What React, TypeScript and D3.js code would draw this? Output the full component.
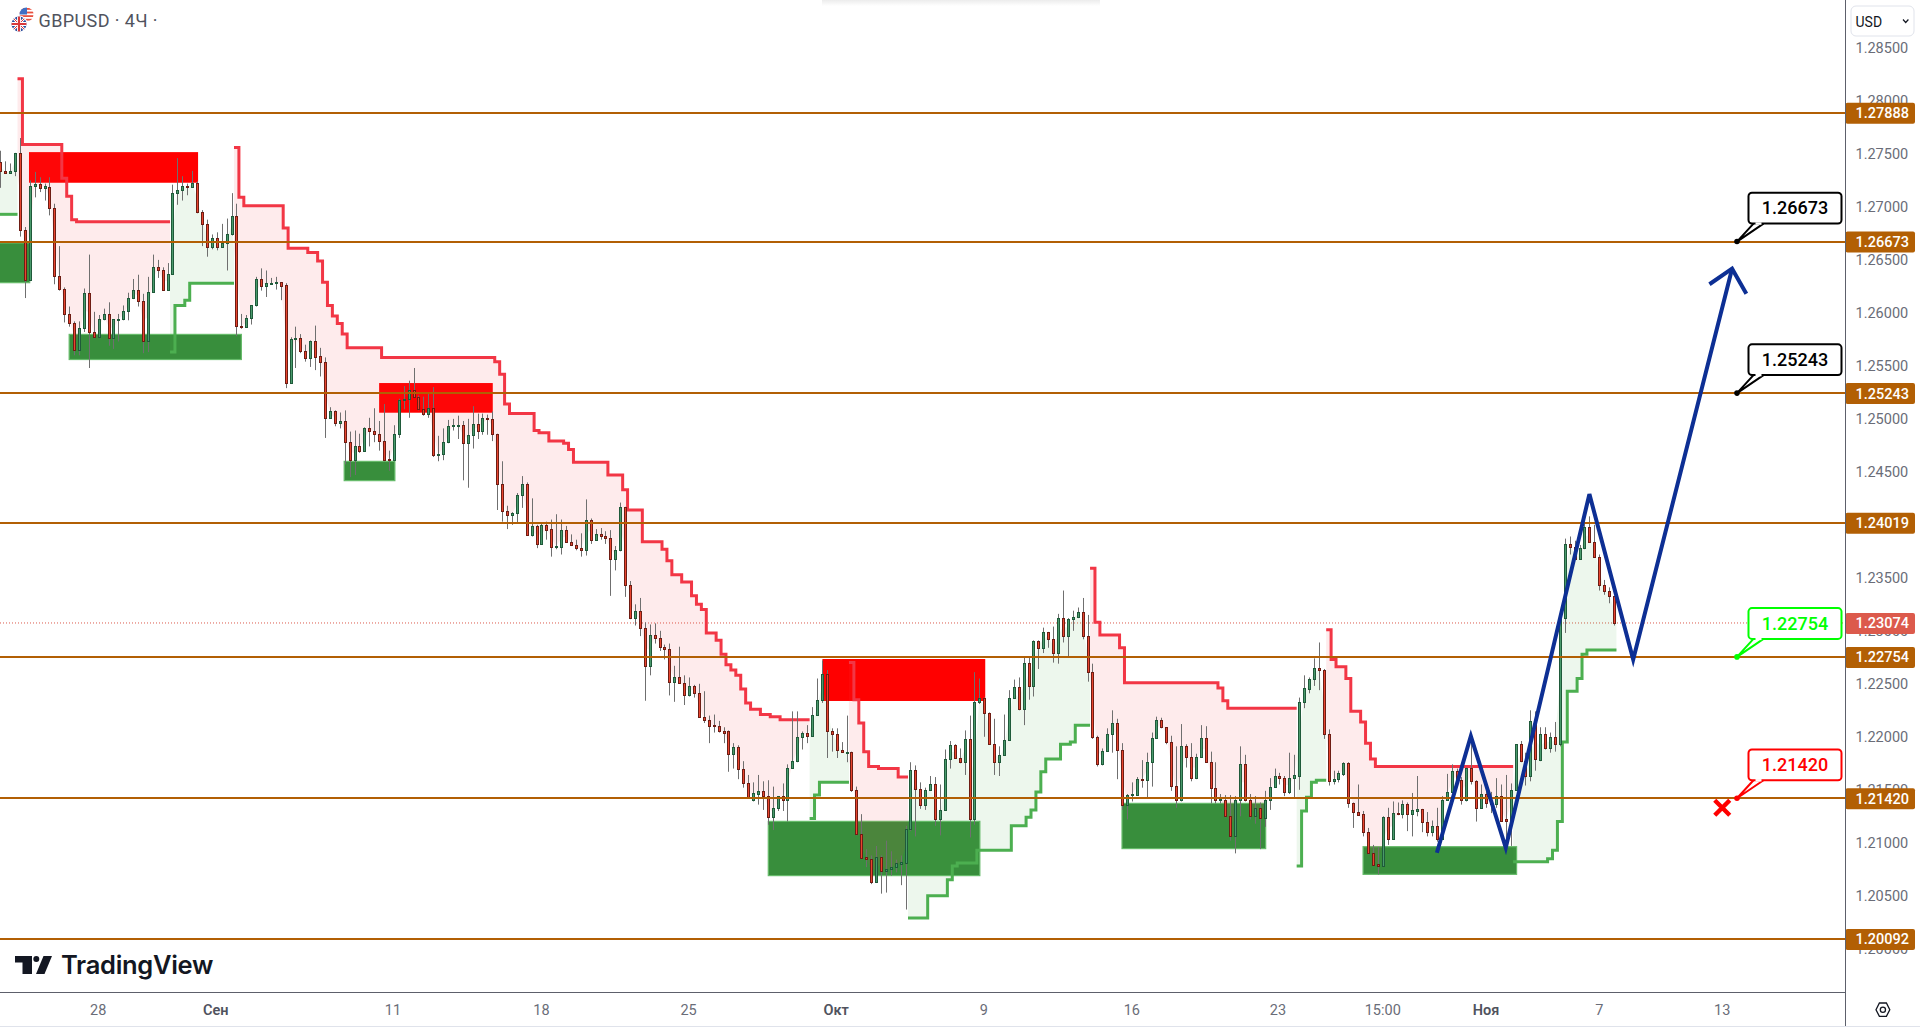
// App.tsx
// GBPUSD 4h candlestick chart with trend steps, supply/demand zones and price levels.
import React from 'react';
import * as d3 from 'd3';

// Prices below are in pips (1.2345 -> 12345). Rows are [open, high, low, close].
const candlesAug = [
  [12742,12753,12718,12734],[12734,12743,12732,12732],[12732,12741,12732,12734],[12734,12751,12729,12751],
  [12751,12765,12672,12678],[12678,12681,12614,12631],[12631,12725,12630,12720],[12720,12733,12709,12722],
  [12722,12728,12714,12718],[12718,12722,12706,12720],[12719,12728,12692,12699],[12699,12703,12627,12635],
  [12635,12663,12621,12623],[12623,12624,12591,12599],[12599,12606,12587,12590],[12590,12592,12560,12565],
  [12565,12592,12560,12586],[12586,12623,12582,12619],[12619,12655,12548,12582],[12582,12601,12576,12577],
  [12577,12598,12577,12594],[12594,12604,12593,12599],[12599,12610,12569,12576],[12576,12594,12566,12594],
  [12594,12599,12573,12594],[12594,12607,12593,12602],[12602,12619,12593,12614],[12614,12632,12613,12622],
  [12622,12636,12606,12611],[12611,12618,12562,12573],[12573,12634,12563,12620],[12620,12655,12620,12643],
  [12643,12650,12633,12640],[12640,12643,12622,12622],[12622,12647,12622,12637],[12637,12721,12637,12713],
  [12713,12746,12702,12716],[12716,12729,12706,12720],[12720,12722,12711,12719],[12719,12734,12719,12723],
  [12723,12724,12694,12695],[12695,12697,12663,12684],[12684,12688,12653,12662],[12662,12674,12660,12671],
];
const candlesSep = [
  [12671,12676,12659,12662],[12662,12684,12662,12666],[12666,12689,12640,12674],[12674,12713,12673,12691],
  [12691,12703,12578,12588],[12588,12599,12585,12587],[12587,12598,12587,12595],[12595,12607,12589,12607],
  [12607,12634,12606,12632],[12632,12642,12621,12625],[12625,12640,12615,12628],[12628,12633,12627,12628],
  [12628,12634,12622,12629],[12629,12629,12612,12625],[12626,12628,12529,12534],[12534,12577,12534,12575],
  [12575,12587,12548,12576],[12576,12580,12562,12564],[12564,12570,12554,12557],[12557,12574,12549,12573],
  [12573,12588,12546,12558],[12559,12567,12540,12554],[12554,12558,12482,12501],[12501,12511,12500,12507],
  [12507,12508,12493,12496],[12496,12506,12491,12498],[12498,12508,12457,12478],[12478,12488,12445,12461],
  [12461,12489,12447,12474],[12474,12486,12468,12470],[12470,12492,12469,12491],[12491,12501,12474,12489],
  [12489,12510,12478,12486],[12486,12498,12470,12479],[12479,12514,12460,12461],[12462,12470,12451,12461],
  [12461,12494,12460,12486],[12486,12519,12482,12518],[12518,12531,12509,12519],[12519,12536,12501,12527],
  [12527,12548,12521,12521],[12521,12522,12508,12509],[12509,12521,12503,12505],[12505,12524,12501,12510],
  [12510,12530,12464,12466],[12466,12484,12460,12467],[12467,12491,12461,12478],[12478,12499,12477,12493],
  [12493,12500,12489,12494],[12494,12503,12481,12494],[12494,12498,12442,12477],[12477,12500,12435,12485],
  [12485,12512,12472,12495],[12495,12505,12481,12489],[12489,12505,12485,12501],[12501,12504,12485,12500],
  [12500,12507,12479,12486],[12486,12486,12414,12439],[12439,12460,12403,12413],[12413,12418,12396,12409],
  [12409,12412,12400,12411],[12411,12430,12402,12428],[12428,12446,12416,12439],[12439,12440,12390,12390],
  [12390,12425,12389,12399],[12399,12400,12378,12382],[12382,12401,12382,12400],[12400,12403,12386,12395],
  [12396,12405,12370,12379],[12379,12410,12377,12380],[12379,12405,12372,12395],[12395,12399,12383,12384],
  [12384,12391,12380,12381],[12381,12386,12376,12378],[12378,12392,12370,12376],[12376,12424,12371,12405],
  [12405,12406,12382,12386],[12386,12396,12385,12391],[12391,12397,12386,12389],[12389,12394,12382,12388],
  [12388,12395,12333,12368],[12368,12380,12357,12376],[12376,12421,12375,12417],[12417,12417,12332,12343],
  [12343,12347,12311,12312],[12312,12325,12305,12319],[12319,12331,12295,12303],[12303,12308,12234,12267],
  [12267,12306,12258,12296],[12296,12307,12288,12293],[12293,12300,12281,12285],[12285,12287,12273,12283],
  [12283,12288,12239,12252],[12252,12267,12233,12256],[12256,12285,12250,12251],[12251,12258,12230,12239],
  [12239,12256,12238,12248],[12248,12249,12237,12241],[12241,12250,12218,12219],[12219,12243,12213,12216],
  [12216,12220,12194,12210],[12211,12221,12204,12210],[12210,12215,12204,12205],[12205,12209,12194,12204],
  [12205,12206,12167,12184],[12184,12194,12170,12190],[12190,12192,12160,12170],[12170,12177,12152,12156],
  [12156,12164,12142,12142],[12140,12157,12139,12147],[12146,12164,12136,12149],[12149,12158,12131,12144],
  [12144,12159,12117,12124],[12124,12153,12112,12133],[12133,12144,12130,12144],[12144,12156,12130,12140],
  [12140,12174,12120,12171],[12171,12224,12170,12177],[12177,12224,12176,12200],[12200,12205,12188,12204],
  [12204,12211,12194,12201],[12201,12228,12200,12221],[12221,12255,12220,12235],[12235,12272,12232,12259],
  [12259,12263,12180,12205],
];
const candlesOct = [
  [12205,12208,12186,12203],[12203,12208,12180,12188],[12188,12195,12185,12186],[12186,12220,12176,12186],
  [12186,12186,12148,12150],[12150,12153,12107,12108],[12108,12127,12086,12086],[12087,12094,12077,12085],
  [12085,12088,12061,12063],[12063,12097,12062,12087],[12087,12088,12052,12073],[12073,12102,12053,12075],
  [12075,12092,12069,12077],[12077,12084,12072,12081],[12080,12088,12060,12082],[12081,12116,12037,12113],
  [12113,12176,12111,12169],[12169,12173,12106,12151],[12151,12157,12132,12136],[12136,12152,12131,12150],
  [12150,12163,12149,12155],[12155,12162,12116,12122],[12122,12155,12107,12131],[12131,12188,12130,12179],
  [12179,12196,12170,12192],[12192,12193,12180,12180],[12180,12189,12175,12176],[12176,12206,12164,12198],
  [12198,12220,12105,12122],[12122,12261,12117,12233],[12233,12255,12231,12237],[12237,12237,12200,12222],
  [12222,12223,12193,12193],[12193,12217,12164,12176],[12176,12191,12163,12183],[12183,12221,12183,12197],
  [12197,12244,12196,12237],[12237,12254,12236,12247],[12247,12256,12225,12226],[12226,12276,12211,12270],
  [12270,12275,12235,12248],[12248,12291,12238,12290],[12290,12291,12264,12284],[12284,12303,12279,12299],
  [12299,12299,12284,12292],[12292,12304,12270,12279],[12279,12316,12269,12312],[12312,12338,12289,12295],
  [12295,12312,12276,12311],[12311,12319,12300,12313],[12313,12322,12312,12318],[12318,12331,12292,12295],
  [12295,12315,12252,12261],[12261,12269,12198,12200],[12200,12201,12172,12174],[12174,12189,12173,12187],
  [12187,12208,12186,12203],[12203,12225,12185,12213],[12213,12217,12160,12188],[12188,12194,12131,12136],
  [12136,12146,12122,12145],[12145,12157,12139,12146],[12145,12162,12145,12160],[12160,12178,12152,12159],
  [12159,12185,12142,12176],[12176,12204,12153,12199],[12199,12219,12198,12216],[12216,12218,12208,12209],
  [12209,12209,12193,12195],[12195,12201,12149,12154],[12154,12191,12133,12140],[12140,12212,12139,12191],
  [12191,12193,12171,12181],[12181,12194,12158,12161],[12161,12184,12160,12181],[12181,12211,12180,12199],
  [12199,12210,12176,12176],[12176,12186,12137,12152],[12152,12176,12137,12140],[12140,12146,12137,12141],
  [12140,12145,12124,12125],[12125,12145,12102,12106],[12106,12144,12090,12140],[12140,12191,12125,12174],
  [12174,12183,12139,12140],[12140,12146,12122,12125],[12125,12144,12118,12133],[12133,12138,12094,12123],
  [12123,12149,12115,12140],[12140,12161,12131,12153],[12153,12170,12152,12163],[12163,12166,12155,12161],
  [12161,12163,12144,12148],[12148,12185,12146,12161],[12161,12183,12142,12164],[12163,12237,12150,12233],
  [12233,12258,12227,12246],[12245,12256,12241,12255],[12255,12274,12248,12265],[12265,12289,12244,12263],
  [12263,12264,12198,12203],[12203,12207,12154,12158],[12158,12168,12155,12160],[12160,12168,12157,12166],
  [12165,12176,12163,12175],[12175,12176,12133,12138],[12138,12138,12114,12129],[12129,12155,12126,12126],
  [12127,12130,12106,12110],[12110,12114,12089,12090],[12090,12098,12079,12079],[12080,12096,12070,12078],
  [12078,12125,12078,12124],[12124,12133,12098,12104],[12104,12139,12103,12128],[12128,12138,12126,12127],
  [12127,12140,12123,12137],[12137,12138,12111,12127],[12127,12147,12106,12131],[12130,12163,12125,12132],
  [12132,12132,12110,12120],[12120,12129,12106,12110],[12110,12121,12106,12116],[12116,12133,12101,12104],
  [12104,12144,12103,12140],[12140,12165,12140,12148],[12148,12174,12148,12168],[12168,12170,12158,12159],
  [12159,12162,12136,12140],[12140,12171,12139,12171],[12171,12200,12155,12158],
];
const candlesNov = [
  [12158,12159,12120,12133],[12133,12155,12132,12146],[12146,12155,12133,12138],[12138,12148,12128,12137],
  [12137,12161,12133,12144],[12144,12155,12120,12121],[12122,12164,12095,12121],[12121,12156,12097,12150],
  [12150,12193,12149,12193],[12193,12196,12176,12177],[12177,12185,12154,12163],[12163,12225,12158,12215],
  [12215,12224,12168,12179],[12178,12209,12177,12203],[12203,12209,12188,12189],[12189,12204,12185,12200],
  [12200,12214,12186,12193],[12193,12313,12191,12312],[12312,12387,12298,12382],[12382,12389,12372,12379],
  [12379,12385,12368,12368],[12368,12381,12367,12378],[12378,12403,12377,12398],[12398,12408,12383,12384],
  [12384,12400,12370,12370],[12370,12372,12338,12343],[12343,12348,12334,12338],[12338,12341,12326,12333],
  [12333,12333,12305,12307],
];
const candles = [...candlesAug, ...candlesSep, ...candlesOct, ...candlesNov];

// Trend steps, rows are [first bar, last bar, level in pips].
const greenRunsA = [[0,3,12693]];
const redRunsA = [[4,4,12821],[5,12,12759],[13,13,12727],[14,14,12710],[15,15,12688],[16,34,12686]];
const greenRunsB = [[35,35,12563],[36,37,12607],[38,38,12612],[39,47,12628]];
const redRunsB = [
  [48,48,12756],[49,49,12709],[50,57,12701],[58,58,12680],[59,62,12661],[63,64,12657],[65,65,12649],[66,66,12629],
  [67,67,12607],[68,68,12597],[69,69,12590],[70,70,12580],[71,77,12567],[78,100,12558],[101,101,12554],[102,102,12542],
  [103,103,12514],[104,108,12505],[109,109,12489],[110,111,12487],[112,114,12479],[115,115,12477],[116,116,12471],
  [117,123,12459],[124,126,12447],[127,127,12433],[128,130,12414],[131,134,12384],[135,135,12377],[136,136,12366],
  [137,138,12353],[139,140,12346],[141,141,12333],[142,142,12325],[143,143,12320],[144,145,12298],[146,146,12291],
  [147,147,12278],[148,148,12268],[149,149,12263],[150,150,12258],[151,151,12245],[152,152,12232],[153,154,12226],
  [155,156,12221],[157,158,12219],[159,164,12216],
];
const greenRunsC = [[165,165,12123],[166,166,12145],[167,172,12157]];
const redRunsC = [[173,173,12270],[174,174,12235],[175,175,12213],[176,176,12186],[177,178,12172],[179,182,12170],[183,184,12162]];
const greenRunsD = [
  [185,188,12029],[189,192,12050],[193,193,12065],[194,194,12078],[195,198,12081],[199,205,12093],[206,208,12116],
  [209,209,12124],[210,210,12131],[211,211,12148],[212,212,12167],[213,215,12179],[216,217,12193],[218,218,12195],[219,221,12211],
];
const redRunsD = [[222,222,12359],[223,223,12308],[224,227,12296],[228,228,12284],[229,247,12251],[248,248,12246],[249,249,12234],[250,263,12227]];
const greenRunsE = [[264,264,12078],[265,265,12130],[266,266,12143],[267,267,12157],[268,269,12159]];
const redRunsE = [[270,270,12301],[271,271,12273],[272,273,12266],[274,274,12255],[275,276,12224],[277,277,12214],[278,278,12194],[279,279,12179],[280,307,12172]];
const greenRunsF = [[308,314,12082],[315,315,12085],[316,316,12093],[317,317,12120],[318,318,12195],[319,320,12243],[321,321,12255],[322,322,12278],[323,328,12282]];
const redTrends = [redRunsA, redRunsB, redRunsC, redRunsD, redRunsE];
const greenTrends = [greenRunsA, greenRunsB, greenRunsC, greenRunsD, greenRunsE, greenRunsF];

// Zones, rows are [first bar, last bar, top, bottom].
const redZones = [[5.83,40.2,12751.7,12722.8],[77,100.1,12533.8,12505.8],[167.1,200.2,12273.4,12233.8]];
const greenZones = [
  [-1,5.97,12666,12628.5],[14,49,12579.7,12556],[69.9,80.2,12459.9,12441.7],[156.1,199.1,12120.2,12069],
  [228,257.2,12137.2,12094.5],[277,308.2,12096.3,12070.2],
];

const levelPrices = [1.27888, 1.26673, 1.25243, 1.24019, 1.22754, 1.2142, 1.20092];
const lastPrice = 1.23074;
const priceTicks = [1.285, 1.28, 1.275, 1.27, 1.265, 1.26, 1.255, 1.25, 1.245, 1.24, 1.235, 1.23, 1.225, 1.22, 1.215, 1.21, 1.205, 1.2];

const timeTickBars = [19.9, 43.8, 79.8, 110, 139.9, 169.9, 199.9, 230, 259.7, 281, 302, 325, 350];
const timeTickLabels = ['28', 'Сен', '11', '18', '25', 'Окт', '9', '16', '23', '15:00', 'Ноя', '7', '13'];
const boldTimeLabels = ['Сен', 'Окт', 'Ноя'];

// Hand drawn zigzag and arrow head, [bar, pips].
const zigzag = [[292,12090.6],[298.9,12200.7],[306,12095.3],[323,12429],[331.9,12273],[352,12641.7]];
const arrowHead = [[347.4,12627],[352,12641.7],[354.9,12618]];

const calloutBar = 353;
const calloutPrices = [1.26673, 1.25243, 1.22754, 1.2142];
const calloutColors = ['#000000', '#000000', '#00ff00', '#ff0000'];
const stopMark = [350, 12133];

const CHART_RIGHT = 1845.5;
const TIME_AXIS_TOP = 992.5;
const LEVEL_COLOR = '#b25f04';
const AXIS_FONT = 'Roboto, sans-serif';

const xScale = d3.scaleLinear().domain([0, 328]).range([0.3, 1614]);
const yPips = d3.scaleLinear().domain([12788.8, 12009.2]).range([112.8, 939]);
const yPrice = (p: number) => yPips(p * 1e4);

const stepLine = d3
  .line<number[]>()
  .x((d) => xScale(d[0]))
  .y((d) => yPips(d[1]))
  .curve(d3.curveStepAfter);

const fillArea = d3
  .area<{ b: number; top: number; bot: number }>()
  .x((d) => xScale(d.b))
  .y0((d) => yPips(d.top))
  .y1((d) => yPips(d.bot));

const mid = (i: number) => {
  const c = candles[Math.max(0, Math.min(candles.length - 1, i))];
  return (c[0] + c[3]) / 2;
};

const runsToLine = (runs: number[][]) => {
  const pts = runs.map((r) => [r[0] - 0.5, r[2]]);
  const last = runs[runs.length - 1];
  pts.push([last[1] + 0.5, last[2]]);
  return stepLine(pts) || '';
};

const runsToFill = (runs: number[][]) => {
  const pts: { b: number; top: number; bot: number }[] = [];
  runs.forEach(([first, lastBar, level]) => {
    for (let b = first; b <= lastBar; b++) {
      pts.push({ b: b - 0.5, top: level, bot: (mid(b - 1) + mid(b)) / 2 });
      pts.push({ b, top: level, bot: mid(b) });
      pts.push({ b: b + 0.5, top: level, bot: (mid(b) + mid(b + 1)) / 2 });
    }
  });
  return fillArea(pts) || '';
};

const polyline = (pts: number[][]) =>
  d3.line<number[]>().x((d) => xScale(d[0])).y((d) => yPips(d[1]))(pts) || '';

const Candle: React.FC<{ row: number[]; index: number }> = ({ row, index }) => {
  const [o, h, l, c] = row;
  const up = c >= o;
  const cx = Math.round(xScale(index)) + 0.5;
  const top = Math.round(yPips(Math.max(o, c))) + 0.5;
  const bottom = Math.max(top + 1, Math.round(yPips(Math.min(o, c))) + 0.5);
  return (
    <g>
      <line x1={cx} x2={cx} y1={yPips(h)} y2={yPips(l)} stroke="#6f6f6f" strokeWidth={1} />
      <rect
        x={cx - 1}
        y={top}
        width={2}
        height={bottom - top}
        fill={up ? '#4a9a6c' : '#e8452f'}
        stroke={up ? '#1f5a3a' : '#6e1d14'}
        strokeWidth={1}
      />
    </g>
  );
};

const Callout: React.FC<{ price: number; color: string }> = ({ price, color }) => {
  const ax = xScale(calloutBar);
  const ay = yPrice(price);
  const boxX = ax + 11.5;
  const boxY = ay - 48.8;
  return (
    <g>
      <path
        d={`M${ax + 16.5},${ay - 18} L${ax},${ay} L${ax + 26.5},${ay - 18}`}
        fill="#ffffff"
        stroke={color}
        strokeWidth={2}
      />
      <rect x={boxX} y={boxY} width={93} height={30.8} rx={3.5} fill="#ffffff" stroke={color} strokeWidth={2} />
      <line x1={ax + 18.5} x2={ax + 24.5} y1={ay - 18} y2={ay - 18} stroke="#ffffff" strokeWidth={2.4} />
      <circle cx={ax} cy={ay} r={2.8} fill={color} />
      <text
        x={boxX + 46.5}
        y={boxY + 21.5}
        textAnchor="middle"
        fontFamily={AXIS_FONT}
        fontSize={18}
        fontWeight={500}
        fill={color}
      >
        {price.toFixed(5)}
      </text>
    </g>
  );
};

const PriceBox: React.FC<{ price: number; fill: string }> = ({ price, fill }) => {
  const y = yPrice(price);
  return (
    <g>
      <rect x={CHART_RIGHT} y={y - 10} width={69.5} height={21} rx={2} fill={fill} />
      <text x={1855.5} y={y + 5.4} fontFamily={AXIS_FONT} fontSize={14.5} fontWeight={500} fill="#ffffff">
        {price.toFixed(5)}
      </text>
    </g>
  );
};

const SymbolFlags: React.FC = () => (
  <g>
    <clipPath id="usFlag"><circle cx={26.5} cy={14.5} r={7} /></clipPath>
    <clipPath id="ukFlag"><circle cx={19} cy={24} r={7.5} /></clipPath>
    <g clipPath="url(#usFlag)">
      <rect x={19} y={7} width={15} height={15} fill="#ffffff" />
      {d3.range(0, 4).map((i) => (
        <rect key={i} x={19} y={8 + i * 3.6} width={15} height={1.8} fill="#e8503f" />
      ))}
      <rect x={19} y={7} width={8} height={7.5} fill="#3f6fc4" />
    </g>
    <circle cx={19} cy={24} r={8.4} fill="#ffffff" />
    <g clipPath="url(#ukFlag)">
      <rect x={11} y={16} width={16} height={16} fill="#2b4f9e" />
      <path d="M11,16 L27,32 M27,16 L11,32" stroke="#ffffff" strokeWidth={2.4} />
      <path d="M11,16 L27,32 M27,16 L11,32" stroke="#d9383a" strokeWidth={1} />
      <path d="M19,16 V32 M11,24 H27" stroke="#ffffff" strokeWidth={4} />
      <path d="M19,16 V32 M11,24 H27" stroke="#d9383a" strokeWidth={2.2} />
    </g>
  </g>
);

const TradingViewLogo: React.FC = () => (
  <g fill="#131722">
    <path d="M15,956 H32 V974 H22.5 V962.5 H15 Z" />
    <circle cx={36.3} cy={959} r={3} />
    <path d="M43.5,956 H52 L44.5,974 H36 Z" />
    <text x={61} y={974} fontFamily="Inter, sans-serif" fontSize={25.5} fontWeight={600} letterSpacing={-0.3}>
      TradingView
    </text>
  </g>
);

export default function App() {
  const stopX = xScale(stopMark[0]);
  const stopY = yPips(stopMark[1]);
  return (
    <svg
      width={1920}
      height={1029}
      viewBox="0 0 1920 1029"
      style={{ position: 'absolute', left: 0, top: 0, display: 'block', background: '#ffffff' }}
    >
      <defs>
        <linearGradient id="topShadow" x1="0" y1="0" x2="0" y2="1">
          <stop offset="0" stopColor="#ececec" />
          <stop offset="1" stopColor="#ffffff" />
        </linearGradient>
      </defs>
      <rect x={822} y={0} width={278} height={6} fill="url(#topShadow)" />

      <line
        x1={0}
        x2={CHART_RIGHT}
        y1={yPrice(lastPrice)}
        y2={yPrice(lastPrice)}
        stroke="#dc5a4c"
        strokeWidth={1}
        strokeDasharray="1 2"
      />

      {greenZones.map((z, i) => (
        <rect
          key={`gz${i}`}
          x={xScale(z[0])}
          y={yPips(z[2])}
          width={xScale(z[1]) - xScale(z[0])}
          height={yPips(z[3]) - yPips(z[2])}
          fill="#388e3c"
          stroke="#66bb6a"
          strokeWidth={1.2}
        />
      ))}
      {redZones.map((z, i) => (
        <rect
          key={`rz${i}`}
          x={xScale(z[0])}
          y={yPips(z[2])}
          width={xScale(z[1]) - xScale(z[0])}
          height={yPips(z[3]) - yPips(z[2])}
          fill="#ff0000"
        />
      ))}

      {redTrends.map((runs, i) => (
        <path key={`rf${i}`} d={runsToFill(runs)} fill="#f23645" fillOpacity={0.1} />
      ))}
      {greenTrends.map((runs, i) => (
        <path key={`gf${i}`} d={runsToFill(runs)} fill="#4caf50" fillOpacity={0.1} />
      ))}
      {redTrends.map((runs, i) => (
        <path key={`rl${i}`} d={runsToLine(runs)} fill="none" stroke="#f23645" strokeWidth={3} />
      ))}
      {greenTrends.map((runs, i) => (
        <path key={`gl${i}`} d={runsToLine(runs)} fill="none" stroke="#4caf50" strokeWidth={3} />
      ))}

      {candles.map((row, i) => (
        <Candle key={i} row={row} index={i} />
      ))}

      {levelPrices.map((p) => (
        <line
          key={p}
          x1={0}
          x2={CHART_RIGHT}
          y1={Math.round(yPrice(p))}
          y2={Math.round(yPrice(p))}
          stroke={LEVEL_COLOR}
          strokeWidth={2}
        />
      ))}

      <path d={polyline(zigzag)} fill="none" stroke="#0d2f94" strokeWidth={4} strokeLinejoin="miter" />
      <path d={polyline(arrowHead)} fill="none" stroke="#0d2f94" strokeWidth={4} />

      {calloutPrices.map((p, i) => (
        <Callout key={p} price={p} color={calloutColors[i]} />
      ))}
      <path
        d={`M${stopX - 7.5},${stopY - 7.5} L${stopX + 7.5},${stopY + 7.5} M${stopX + 7.5},${stopY - 7.5} L${stopX - 7.5},${stopY + 7.5}`}
        stroke="#ff0000"
        strokeWidth={4.4}
        fill="none"
      />

      <SymbolFlags />
      <text x={38.5} y={27} fontFamily={AXIS_FONT} fontSize={18} letterSpacing={0.4} fill="#50535e">
        GBPUSD · 4Ч ·
      </text>
      <TradingViewLogo />

      {/* price axis */}
      <rect x={CHART_RIGHT} y={0} width={74.5} height={1026} fill="#ffffff" />
      {priceTicks.map((p) => (
        <text key={p} x={1855.5} y={yPrice(p) + 5.2} fontFamily={AXIS_FONT} fontSize={14.5} fill="#6a6d78">
          {p.toFixed(5)}
        </text>
      ))}
      {levelPrices.map((p) => (
        <PriceBox key={p} price={p} fill={LEVEL_COLOR} />
      ))}
      <PriceBox price={lastPrice} fill="#dc5a4c" />
      <rect x={1851} y={6} width={63} height={30} rx={5} fill="#ffffff" stroke="#e0e3eb" strokeWidth={1} />
      <text x={1855.5} y={26.5} fontFamily={AXIS_FONT} fontSize={14} fill="#131722">USD</text>
      <path d="M1903,19.5 L1905.7,22.5 L1908.4,19.5" fill="none" stroke="#131722" strokeWidth={1.2} />

      {/* time axis */}
      <rect x={0} y={TIME_AXIS_TOP} width={CHART_RIGHT} height={34} fill="#ffffff" />
      {timeTickBars.map((b, i) => (
        <text
          key={timeTickLabels[i]}
          x={xScale(b)}
          y={1014.5}
          textAnchor="middle"
          fontFamily={AXIS_FONT}
          fontSize={14.5}
          fontWeight={boldTimeLabels.includes(timeTickLabels[i]) ? 600 : 400}
          fill={boldTimeLabels.includes(timeTickLabels[i]) ? '#50535e' : '#6a6d78'}
        >
          {timeTickLabels[i]}
        </text>
      ))}
      <line x1={0} x2={CHART_RIGHT} y1={TIME_AXIS_TOP} y2={TIME_AXIS_TOP} stroke="#5d606b" strokeWidth={1} />
      <line x1={CHART_RIGHT} x2={CHART_RIGHT} y1={0} y2={1026} stroke="#5d606b" strokeWidth={1} />
      <path
        d="M1876,1009.7 L1879.4,1003 H1886.4 L1889.8,1009.7 L1886.4,1016.4 H1879.4 Z"
        fill="none"
        stroke="#131722"
        strokeWidth={1.3}
      />
      <circle cx={1882.9} cy={1009.7} r={2.6} fill="none" stroke="#131722" strokeWidth={1.3} />
      <rect x={0} y={1026} width={1920} height={1} fill="#e0e3eb" />
    </svg>
  );
}
